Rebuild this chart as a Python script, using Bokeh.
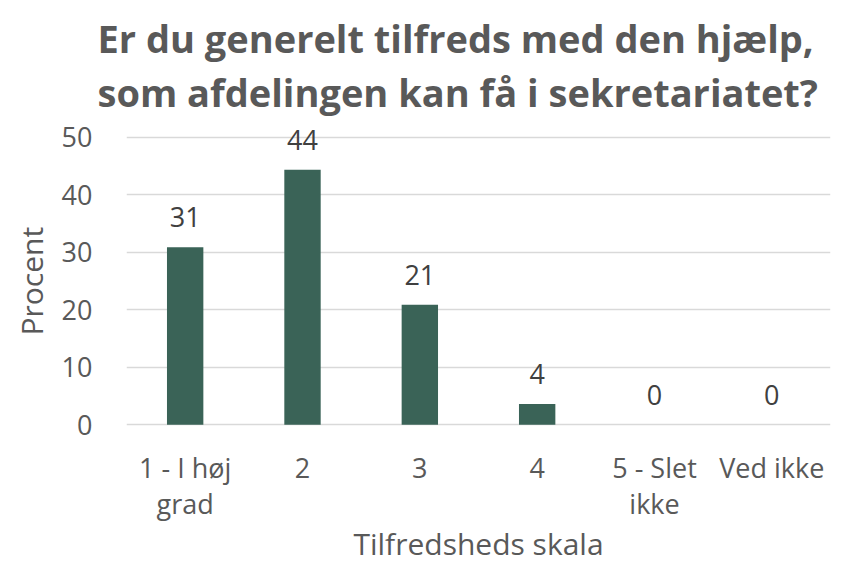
from bokeh.plotting import figure
from bokeh.models import ColumnDataSource, Title, Range1d, FixedTicker, LabelSet, Label
from bokeh.core.properties import value
from bokeh.embed import file_html
from bokeh.resources import INLINE

categories = ["1 - I høj grad", "2", "3", "4", "5 - Slet ikke", "Ved ikke"]
tick_line1 = ["1 - I høj", "2", "3", "4", "5 - Slet", "Ved ikke"]
tick_line2 = ["grad", "", "", "", "ikke", ""]
values = [30.9, 44.4, 20.9, 3.6, 0.0, 0.0]
value_labels = ["31", "44", "21", "4", "0", "0"]
y_ticks = [0, 10, 20, 30, 40, 50]

FONT = "Open Sans"
GRAY = "#595959"
PX_PER_UNIT = 5.74
Y_LO, Y_HI = -24.5, 53.3

src = ColumnDataSource(dict(cat=categories, val=values, lab=value_labels,
                            zero=[0] * len(categories), t1=tick_line1, t2=tick_line2))

p = figure(x_range=categories, frame_width=704,
           frame_height=int(round((Y_HI - Y_LO) * PX_PER_UNIT)),
           output_backend="svg", toolbar_location=None,
           min_border_left=126, min_border_right=7,
           min_border_top=118, min_border_bottom=0)
p.y_range = Range1d(Y_LO, Y_HI)

p.vbar(x="cat", top="val", width=0.31, source=src, fill_color="#3A6357", line_color=None)

p.add_layout(LabelSet(x="cat", y="val", text="lab", source=src, text_align="center",
                      text_baseline="middle", y_offset=30, text_font_size="27px",
                      text_color="#404040", text_font=value(FONT)))
p.add_layout(LabelSet(x="cat", y="zero", text="t1", source=src, text_align="center",
                      text_baseline="middle", y_offset=-43, text_font_size="27px",
                      text_color=GRAY, text_font=value(FONT)))
p.add_layout(LabelSet(x="cat", y="zero", text="t2", source=src, text_align="center",
                      text_baseline="middle", y_offset=-79, text_font_size="27px",
                      text_color=GRAY, text_font=value(FONT)))

# x axis title (drawn inside the extended frame, below the tick labels)
p.add_layout(Label(x=3, y=0, y_offset=-119, text="Tilfredsheds skala", text_align="center",
                   text_baseline="middle", text_font_size="30px", text_color=GRAY,
                   text_font=FONT))

t2 = Title(text="som afdelingen kan få i sekretariatet?", align="left", offset=-29,
           vertical_align="middle",
           text_font_size="38px", text_font_style="bold", text_color=GRAY,
           text_font=FONT, standoff=0)
t1 = Title(text="Er du generelt tilfreds med den hjælp,", align="left", offset=-29,
           vertical_align="middle",
           text_font_size="38px", text_font_style="bold", text_color=GRAY,
           text_font=FONT, standoff=0)
p.title = None
p.add_layout(t2, "above")
p.add_layout(t1, "above")

ylab = Title(text="Procent", align="left", offset=230, vertical_align="middle",
             text_font_size="30px", text_font_style="normal", text_color=GRAY,
             text_font=FONT, standoff=12)
p.add_layout(ylab, "left")

p.yaxis.ticker = FixedTicker(ticks=y_ticks)
p.yaxis.major_label_text_font_size = "27px"
p.yaxis.major_label_text_color = GRAY
p.yaxis.major_label_text_font = FONT
p.yaxis.axis_line_color = None
p.yaxis.major_tick_line_color = None
p.yaxis.minor_tick_line_color = None
p.yaxis.major_label_standoff = 28

p.xaxis.visible = False
p.xgrid.grid_line_color = None
p.ygrid.grid_line_color = "#D9D9D9"
p.ygrid.grid_line_width = 1.5
p.outline_line_color = None
p.x_range.range_padding = 0.0

open("out.html", "w").write(file_html(p, INLINE))
